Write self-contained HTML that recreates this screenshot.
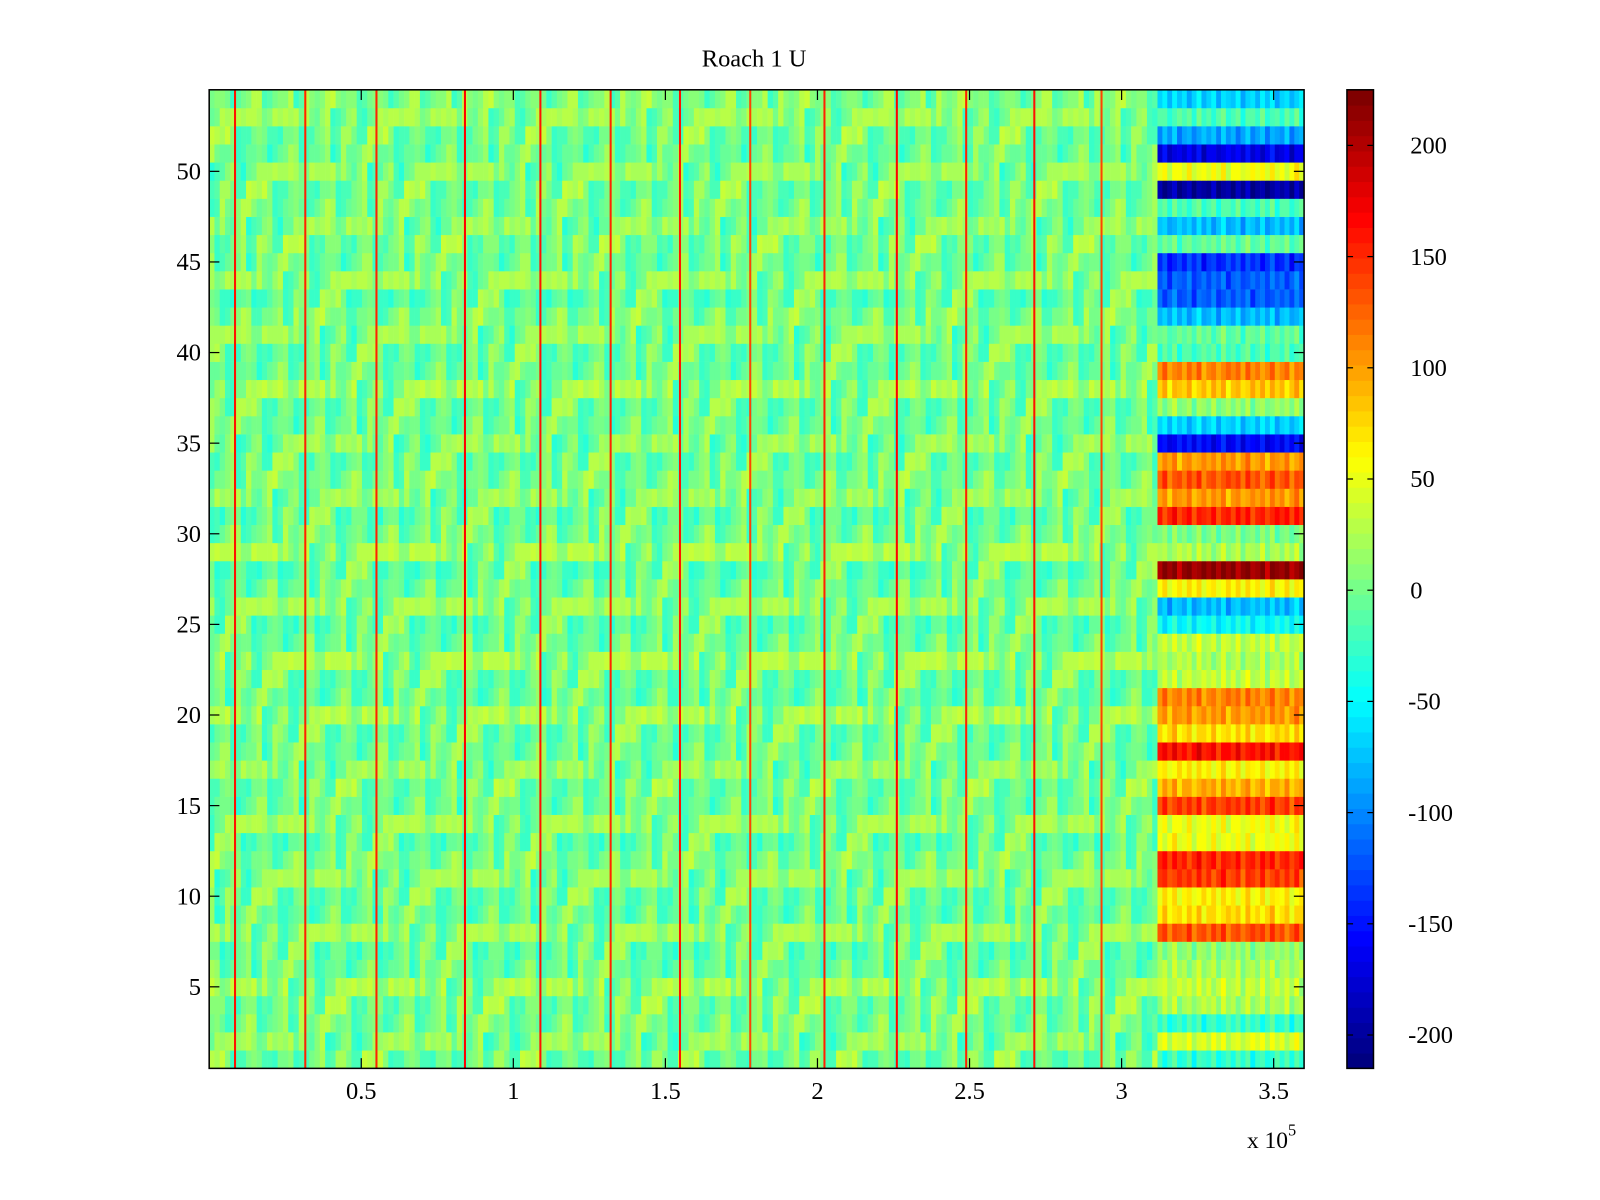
<!DOCTYPE html>
<html><head><meta charset="utf-8">
<style>
html,body{margin:0;padding:0;background:#fff;}
svg{display:block;font-family:"Liberation Serif",serif;}
</style></head>
<body>
<svg id="chart" width="1600" height="1200" viewBox="0 0 1568 1176" xmlns="http://www.w3.org/2000/svg">
<rect width="1568" height="1176" fill="#fff"/>
<text x="739" y="65" font-size="24" text-anchor="middle">Roach 1 U</text>
<g id="cells"></g>
<rect x="205" y="88" width="1073" height="959" fill="none" stroke="#000" stroke-width="1.5"/>
<g id="axes"></g>
<g id="cbar"></g>
<text x="1222" y="1125" font-size="23">x 10<tspan dy="-12" font-size="16">5</tspan></text>
</svg>
<script>
// ---- data ----
const xMax = 360000;
const nRows = 54;
const clim = [-215, 225];
const xTicks = [50000,100000,150000,200000,250000,300000,350000];
const xTickLabels = ["0.5","1","1.5","2","2.5","3","3.5"];
const yTicks = [5,10,15,20,25,30,35,40,45,50];
const cbTicks = [-200,-150,-100,-50,0,50,100,150,200];
// background per-row offset (row 1..54)
const rowBase = [4,-4,2,6,4,-2,0,2,-4,2,0,4,-2,2,0,4,-2,0,2,4,-4,2,6,0,-2,2,0,-4,6,2,0,-2,4,2,-4,0,2,4,-2,2,0,4,-4,2,0,6,-2,2,4,0,-2,4,2,6];
// background column modulation
const colMod = [5,-25,20,-5,30,-20,0,25,-30,5,20,-5,-25,30,0,-20,5,25,-5,-30,20,0,-20,25,5,-25,30,-5,0,20,-30,5,25,-20,0,30,-5,-25,20,5,-20,0,25,-30,5,20,-5,30,-25,0,20,-20,5,25,-5,-30,20,0,-20,30,5,-25,0,20,-5,25,-30,5,0,-20,15,-10,25,-25,10,0,-15,30,-5,20,-30,5,15,-20,25,0,-10,30,-25,10];
// vertical spike lines (sample index)
const spikeX = [8500,31600,55000,84100,108900,132000,154800,177900,202300,226100,248900,271300,293400];
const spikeVal = [160,150,150,170,160,150,160,140,150,170,150,160,140];
// right block values per row (row 1..54)
const blockStart = 311800;
const blockVals = [-30,40,-30,20,30,20,10,130,70,60,140,150,50,50,140,90,60,160,70,100,110,30,20,30,-50,-80,60,210,20,0,150,100,130,100,-160,-70,10,80,110,-20,-10,-80,-120,-120,-140,-10,-80,-20,-200,50,-170,-90,-20,-70];
// within-block column texture
const blockMod = [0,15,-10,20,-5,10,-15,5,25,-10,0,15,-20,10,5,-5,20,-15,0,10,-10,15,-5,20,-20,5,10,-10,0,15];

// ---- scales ----
const X0=205,X1=1278,Y0=88,Y1=1047;
const xs = v => X0 + v/xMax*(X1-X0);
const rowH = (Y1-Y0)/nRows;
const ys = r => Y0 + (nRows + 0.5 - r)*rowH;
function jet(v){
  let t=(v-clim[0])/(clim[1]-clim[0]); t=Math.max(0,Math.min(1,t));
  t=Math.floor(t*63.999)/63;
  const f=x=>Math.max(0,Math.min(1,x));
  const r=f(1.5-Math.abs(4*t-3)), g=f(1.5-Math.abs(4*t-2)), b=f(1.5-Math.abs(4*t-1));
  return `rgb(${Math.round(r*255)},${Math.round(g*255)},${Math.round(b*255)})`;
}
const NS="http://www.w3.org/2000/svg";
function mk(tag,attrs,parent){const e=document.createElementNS(NS,tag);for(const k in attrs)e.setAttribute(k,attrs[k]);parent.appendChild(e);return e;}
const cells=document.getElementById('cells');
const nc=colMod.length*2, binW=blockStart/nc;
const nb=blockMod.length, bW=(xMax-blockStart)/nb;
for(let r=1;r<=nRows;r++){
  const yT=ys(r)-rowH/2;
  for(let c=0;c<nc;c++){
    const v=rowBase[r-1]+colMod[(c*3+r*7)%colMod.length];
    const x0=xs(c*binW), x1=xs((c+1)*binW);
    const e=mk('rect',{x:x0,y:yT,width:x1-x0+0.3,height:rowH+0.3,fill:jet(v)},cells);
    
    
  }
  for(let c=0;c<nb;c++){
    const v=blockVals[r-1]+blockMod[(c+r*5)%nb];
    const x0=xs(blockStart+c*bW), x1=xs(blockStart+(c+1)*bW);
    const e=mk('rect',{x:x0,y:yT,width:x1-x0+0.3,height:rowH+0.3,fill:jet(v)},cells);
    
    
  }
}
spikeX.forEach((s,i)=>{
  const e=mk('rect',{x:xs(s)-1,y:Y0,width:2,height:Y1-Y0,fill:jet(spikeVal[i])},cells);
  
  
});
const axes=document.getElementById('axes');
xTicks.forEach((t,i)=>{
  const x=xs(t);
  mk('line',{x1:x,x2:x,y1:Y1,y2:Y1-10,stroke:'#000','stroke-width':1.2},axes);
  mk('line',{x1:x,x2:x,y1:Y0,y2:Y0+10,stroke:'#000','stroke-width':1.2},axes);
  const tx=mk('text',{x:x,y:Y1+30,'font-size':24,'text-anchor':'middle'},axes);
  tx.textContent=xTickLabels[i];
  
  
});
yTicks.forEach(t=>{
  const y=ys(t);
  mk('line',{x1:X0,x2:X0+10,y1:y,y2:y,stroke:'#000','stroke-width':1.2},axes);
  mk('line',{x1:X1,x2:X1-10,y1:y,y2:y,stroke:'#000','stroke-width':1.2},axes);
  const tx=mk('text',{x:X0-8,y:y+8,'font-size':24,'text-anchor':'end'},axes);
  tx.textContent=String(t);
  
  
});
const cb=document.getElementById('cbar');
const CX=1320,CW=26;
const cy=v=>Y1-(v-clim[0])/(clim[1]-clim[0])*(Y1-Y0);
for(let i=0;i<64;i++){
  const v0=clim[0]+i*(clim[1]-clim[0])/64, v1=clim[0]+(i+1)*(clim[1]-clim[0])/64;
  const e=mk('rect',{x:CX,y:cy(v1),width:CW,height:cy(v0)-cy(v1)+0.5,fill:jet((v0+v1)/2)},cb);
  
  
}
mk('rect',{x:CX,y:Y0,width:CW,height:Y1-Y0,fill:'none',stroke:'#000','stroke-width':1.5},cb);
cbTicks.forEach(t=>{
  const y=cy(t);
  mk('line',{x1:CX,x2:CX+6,y1:y,y2:y,stroke:'#000','stroke-width':1.2},cb);
  mk('line',{x1:CX+CW,x2:CX+CW-6,y1:y,y2:y,stroke:'#000','stroke-width':1.2},cb);
  const tx=mk('text',{x:t<0?CX+CW+34:CX+CW+36,y:y+8,'font-size':24},cb);
  tx.textContent=String(t);
  
  
});
</script>
</body></html>
